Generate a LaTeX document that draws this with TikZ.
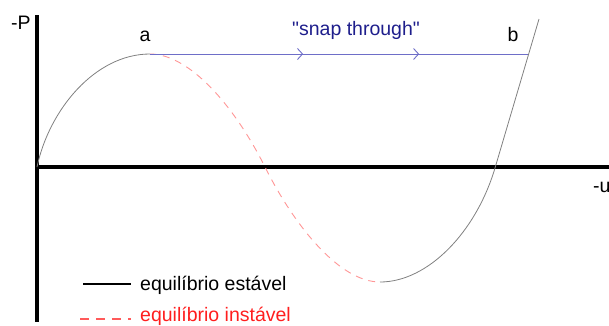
\documentclass[tikz,border=0pt]{standalone}
\usepackage{fontspec}
\setmainfont{Liberation Sans}
\usetikzlibrary{arrows.meta,decorations.markings}
\definecolor{snapline}{RGB}{110,110,200}
\definecolor{snaptext}{RGB}{30,30,140}
\definecolor{unstable}{RGB}{255,150,150}
\definecolor{unstabletext}{RGB}{255,30,30}
\definecolor{unstabledash}{RGB}{255,90,90}

\begin{document}
\begin{tikzpicture}[x=1pt,y=-1pt,every node/.style={font=\fontsize{19.5}{21}\selectfont,inner sep=0pt}]
  \useasboundingbox (0,0) rectangle (609,325);
  % points on the equilibrium path
  \coordinate (O) at (37,167);
  \coordinate (a) at (150,54);
  \coordinate (z) at (265,167);
  \coordinate (m) at (380,282);
  \coordinate (c) at (495,168);
  \coordinate (b) at (528,54);
  \coordinate (top) at (539,19);
  % axes
  \draw[line width=4pt] (37,15) -- (37,322);
  \draw[line width=4pt] (O) -- (609,167);
  \node[anchor=base west] (axP) at (11,29) {-P};
  \node[anchor=base west] (axU) at (593,192) {-u};
  % stable / unstable branches
  \draw[gray, line width=0.8pt] (O) .. controls (49,110) and (95,54) .. (a);
  \draw[unstable, line width=0.9pt, dash pattern=on 7pt off 6pt] (a) .. controls (190,54) and (235,107) .. (z)
    .. controls (295,227) and (340,282) .. (m);
  \draw[gray, line width=0.8pt] (m) .. controls (428,282) and (476,232) .. (c) -- (top);
  % snap through
  \draw[snapline, line width=0.9pt,
    postaction={decorate},
    decoration={markings,
      mark=at position 0.405 with {\arrow{Straight Barb[length=5pt,width=11pt]}},
      mark=at position 0.712 with {\arrow{Straight Barb[length=5pt,width=11pt]}}}] (a) -- (b);
  \node[anchor=base] (lblA) at (145,41) {a};
  \node[anchor=base] (lblB) at (513,41) {b};
  \node[anchor=base, text=snaptext] (lblSnap) at (356,35) {\textquotedbl snap through\textquotedbl};
  % legend
  \draw[line width=2pt] (83,284) -- (131,284);
  \node[anchor=base west] (legStable) at (140,290) {equilíbrio estável};
  \draw[unstabledash, line width=1.3pt, dash pattern=on 9pt off 7pt] (80,319) -- (131,319);
  \node[anchor=base west, text=unstabletext] (legUnstable) at (140,321) {equilíbrio instável};
\end{tikzpicture}
\end{document}
